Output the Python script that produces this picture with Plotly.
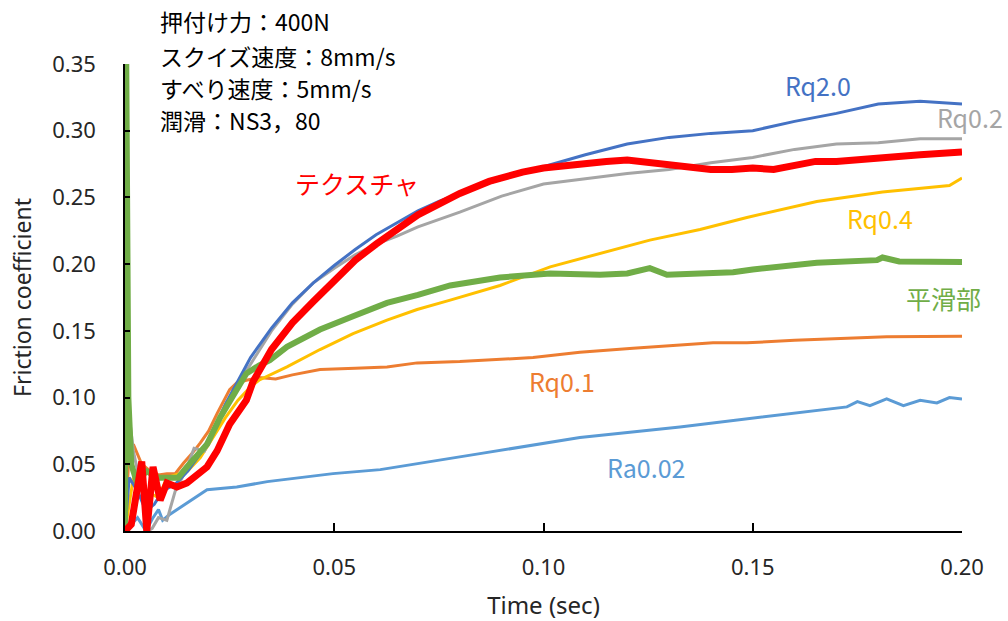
import plotly.graph_objects as go

# ---- data ----
t_rq20 = [0, 0.001, 0.003, 0.005, 0.007, 0.009, 0.012, 0.015, 0.018, 0.021, 0.024, 0.027, 0.030,
          0.035, 0.040, 0.045, 0.050, 0.055, 0.060, 0.065, 0.070, 0.075, 0.080, 0.090, 0.100, 0.105,
          0.110, 0.120, 0.130, 0.140, 0.150, 0.160, 0.170, 0.180, 0.190, 0.200]
v_rq20 = [0, 0.040, 0.030, 0.015, 0.020, 0.030, 0.035, 0.045, 0.058, 0.075, 0.095, 0.112, 0.130,
          0.152, 0.171, 0.186, 0.199, 0.211, 0.222, 0.231, 0.240, 0.247, 0.253, 0.264, 0.273, 0.278,
          0.282, 0.290, 0.295, 0.298, 0.300, 0.307, 0.313, 0.320, 0.322, 0.320]

t_rq02 = [0, 0.0005, 0.002, 0.004, 0.0055, 0.0065, 0.008, 0.010, 0.012, 0.0145, 0.0165, 0.019, 0.022,
          0.025, 0.028, 0.030, 0.035, 0.040, 0.045, 0.050, 0.055, 0.060, 0.065, 0.070, 0.080, 0.090,
          0.100, 0.110, 0.120, 0.130, 0.140, 0.150, 0.160, 0.170, 0.180, 0.190, 0.200]
v_rq02 = [0, 0.100, 0.060, 0.030, 0.000, 0.002, 0.010, 0.008, 0.030, 0.045, 0.062, 0.060, 0.080,
          0.098, 0.115, 0.125, 0.150, 0.170, 0.186, 0.197, 0.207, 0.215, 0.221, 0.228, 0.239, 0.251,
          0.260, 0.264, 0.268, 0.271, 0.276, 0.280, 0.286, 0.290, 0.291, 0.294, 0.294]

t_tex = [0, 0.0015, 0.004, 0.0052, 0.0067, 0.0084, 0.010, 0.0124, 0.0148, 0.017, 0.0196, 0.022, 0.025,
         0.029, 0.0306, 0.035, 0.040, 0.045, 0.050, 0.055, 0.060, 0.065, 0.070, 0.075, 0.080, 0.087,
         0.095, 0.100, 0.105, 0.110, 0.115, 0.120, 0.125, 0.130, 0.135, 0.140, 0.145, 0.150, 0.155,
         0.160, 0.165, 0.170, 0.180, 0.190, 0.200]
v_tex = [0, 0.005, 0.052, 0.000, 0.048, 0.023, 0.036, 0.033, 0.036, 0.042, 0.048, 0.060, 0.080,
         0.098, 0.112, 0.136, 0.156, 0.172, 0.188, 0.203, 0.215, 0.226, 0.237, 0.245, 0.253, 0.262,
         0.269, 0.272, 0.274, 0.276, 0.277, 0.278, 0.276, 0.274, 0.272, 0.271, 0.271, 0.272, 0.271,
         0.274, 0.277, 0.277, 0.280, 0.282, 0.284]

t_smooth = [0, 0.0003, 0.0008, 0.0015, 0.003, 0.005, 0.008, 0.010, 0.0127, 0.0148, 0.0175, 0.0196,
            0.0227, 0.026, 0.029, 0.032, 0.0346, 0.0387, 0.0466, 0.0545, 0.0626, 0.070, 0.0777,
            0.0896, 0.1016, 0.1135, 0.120, 0.1254, 0.1295, 0.1453, 0.150, 0.1653, 0.1797, 0.181,
            0.185, 0.200]
v_smooth = [0, 0.350, 0.100, 0.050, 0.035, 0.045, 0.040, 0.040, 0.040, 0.048, 0.058, 0.065,
            0.085, 0.102, 0.118, 0.124, 0.128, 0.138, 0.151, 0.161, 0.171, 0.177, 0.184,
            0.190, 0.193, 0.192, 0.193, 0.197, 0.192, 0.194, 0.196, 0.201, 0.203, 0.205,
            0.202, 0.2016]

t_rq01 = [0, 0.001, 0.002, 0.004, 0.006, 0.008, 0.010, 0.012, 0.014, 0.016, 0.018, 0.020, 0.022,
          0.025, 0.0267, 0.029, 0.032, 0.036, 0.040, 0.0466, 0.055, 0.0626, 0.0698, 0.080, 0.0975,
          0.1087, 0.1214, 0.1405, 0.1486, 0.160, 0.182, 0.200]
v_rq01 = [0, 0.060, 0.065, 0.050, 0.045, 0.042, 0.043, 0.043, 0.051, 0.058, 0.066, 0.075, 0.088,
          0.106, 0.111, 0.113, 0.115, 0.114, 0.117, 0.121, 0.122, 0.123, 0.126, 0.127, 0.130,
          0.134, 0.137, 0.141, 0.141, 0.143, 0.1455, 0.146]

t_rq04 = [0, 0.002, 0.005, 0.008, 0.010, 0.012, 0.015, 0.018, 0.021, 0.024, 0.027, 0.030, 0.032,
          0.0387, 0.0466, 0.0545, 0.0626, 0.0698, 0.0777, 0.0896, 0.1016, 0.1135, 0.1254, 0.1374,
          0.1486, 0.1653, 0.181, 0.197, 0.200]
v_rq04 = [0, 0.040, 0.030, 0.025, 0.040, 0.042, 0.045, 0.055, 0.070, 0.085, 0.098, 0.108, 0.113,
          0.123, 0.136, 0.148, 0.158, 0.166, 0.173, 0.184, 0.198, 0.208, 0.218, 0.226,
          0.235, 0.247, 0.254, 0.259, 0.2645]

t_ra002 = [0, 0.003, 0.005, 0.0067, 0.008, 0.009, 0.0105, 0.0124, 0.0155, 0.0196, 0.0267, 0.034,
           0.0497, 0.061, 0.0848, 0.1087, 0.1326, 0.1565, 0.1725, 0.175, 0.178, 0.182, 0.186,
           0.190, 0.194, 0.197, 0.200]
v_ra002 = [0, 0.010, 0.000, 0.010, 0.016, 0.008, 0.012, 0.016, 0.023, 0.031, 0.033, 0.037,
           0.043, 0.046, 0.058, 0.070, 0.078, 0.087, 0.093, 0.097, 0.094, 0.099, 0.094,
           0.098, 0.096, 0.100, 0.099]

x_ticks = [0.00, 0.05, 0.10, 0.15, 0.20]
y_ticks = [0.00, 0.05, 0.10, 0.15, 0.20, 0.25, 0.30, 0.35]

conditions = ["押付け力：400N", "スクイズ速度：8mm/s", "すべり速度：5mm/s", "潤滑：NS3，80"]

# ---- figure ----
series = [
    ("Ra0.02", t_ra002, v_ra002, "#5B9BD5", 3),
    ("Rq0.1", t_rq01, v_rq01, "#ED7D31", 3),
    ("Rq0.4", t_rq04, v_rq04, "#FFC000", 3),
    ("Rq0.2", t_rq02, v_rq02, "#A5A5A5", 3),
    ("Rq2.0", t_rq20, v_rq20, "#4472C4", 3),
    ("平滑部", t_smooth, v_smooth, "#70AD47", 6),
    ("テクスチャ", t_tex, v_tex, "#FF0000", 7),
]

fig = go.Figure()
for name, xs, ys, col, w in series:
    fig.add_trace(go.Scatter(x=xs, y=ys, mode="lines", name=name,
                             line=dict(color=col, width=w), cliponaxis=False))

# (text, x, y, colour, xshift)
labels = [
    ("Rq2.0", 0.1656, 0.334, "#4472C4", 0),
    ("Rq0.2", 0.2000, 0.310, "#A5A5A5", 8),
    ("テクスチャ", 0.0554, 0.261, "#FF0000", 0),
    ("Rq0.4", 0.1804, 0.2346, "#FFC000", 0),
    ("平滑部", 0.1955, 0.1746, "#70AD47", 0),
    ("Rq0.1", 0.1044, 0.1124, "#ED7D31", 0),
    ("Ra0.02", 0.1245, 0.048, "#5B9BD5", 0),
]
for txt, x, y, col, xs_ in labels:
    fig.add_annotation(x=x, y=y, xref="x", yref="y", text=txt, showarrow=False, xshift=xs_,
                       font=dict(size=25, color=col, family="Noto Sans CJK JP"))

cond_y = [1.092, 1.018, 0.948, 0.880]
for txt, yy in zip(conditions, cond_y):
    fig.add_annotation(x=0.040, y=yy, xref="paper", yref="paper", text=txt, showarrow=False,
                       xanchor="left", yanchor="middle",
                       font=dict(size=23, color="#000000", family="Noto Sans CJK JP"))

fig.update_layout(
    width=1008, height=621,
    margin=dict(l=125, r=46, t=64, b=90, autoexpand=False),
    paper_bgcolor="white", plot_bgcolor="white",
    showlegend=False,
    font=dict(family="Noto Sans, Noto Sans CJK JP", color="#262626"),
)
fig.update_xaxes(
    range=[0, 0.20], tickvals=x_ticks, ticktext=[f"{v:.2f}" for v in x_ticks],
    showgrid=False, zeroline=False, showline=True, linecolor="#000000", linewidth=2,
    ticks="inside", ticklen=8, tickwidth=1.5, tickcolor="#000000", automargin=False,
    tickfont=dict(size=22, color="#262626"), ticklabelstandoff=16,
    title=dict(text="Time (sec)", font=dict(size=24, color="#262626"), standoff=18),
)
fig.update_yaxes(
    range=[0, 0.35], tickvals=y_ticks, ticktext=[f"{v:.2f}" for v in y_ticks],
    showgrid=False, zeroline=False, showline=True, linecolor="#000000", linewidth=1.5,
    ticks="inside", ticklen=5, tickwidth=1.5, tickcolor="#000000", automargin=False,
    tickfont=dict(size=22, color="#262626"), ticklabelstandoff=23,
    title=dict(text="Friction coefficient", font=dict(size=23, color="#262626"), standoff=14),
)

fig.write_html("out.html")
